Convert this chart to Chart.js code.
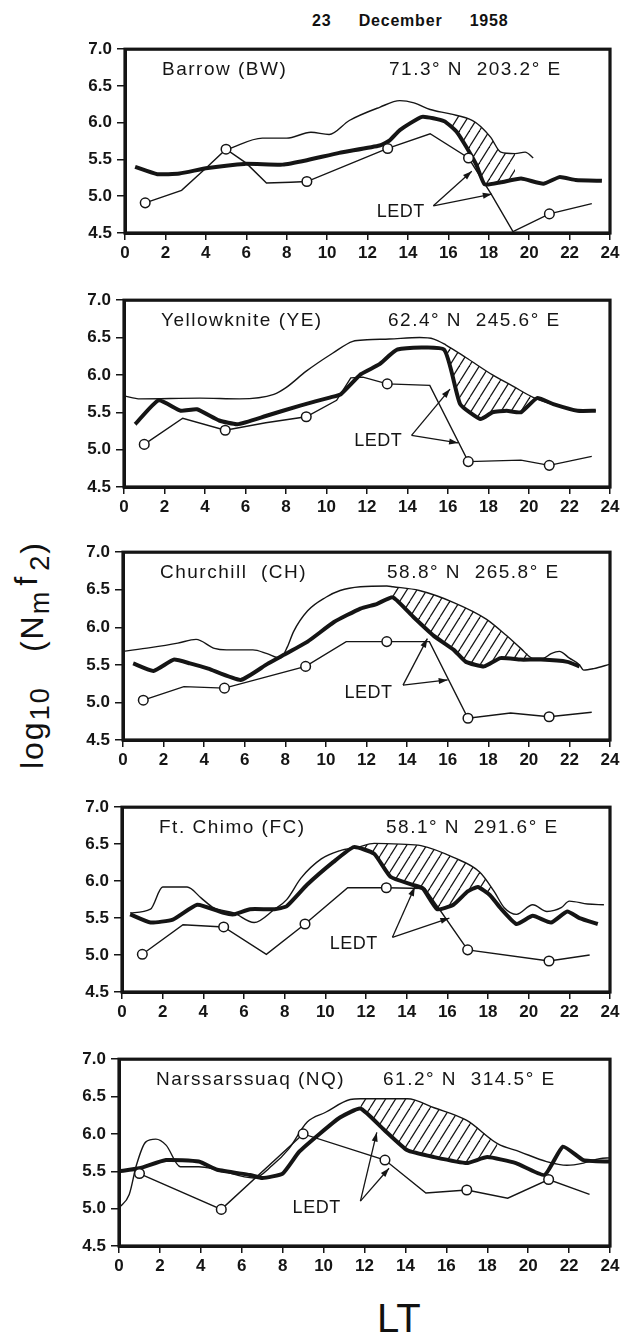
<!DOCTYPE html>
<html>
<head>
<meta charset="utf-8">
<script src="https://cdn.jsdelivr.net/npm/chart.js@4.4.0/dist/chart.umd.min.js"></script>
<style>
  body { margin: 0; background: #fff; width: 642px; height: 1336px; position: relative; overflow: hidden;
         font-family: 'Liberation Sans', Arial, sans-serif; color: #111; }
  canvas { position: absolute; left: 0; }
  #date { position: absolute; left: 312px; top: 12px; font-size: 16px; font-weight: bold; letter-spacing: 0.8px; word-spacing: 22px; white-space: nowrap; }
  #ylab { position: absolute; left: -118px; top: 635px; width: 300px; height: 40px; line-height: 40px;
          text-align: center; font-size: 32px; letter-spacing: 2px; transform: rotate(-90deg); white-space: nowrap; }
  #ylab .lo { font-size: 0.85em; position: relative; top: 0.22em; }
  #ylab .hi { position: relative; top: -0.2em; margin: 0 4px; }
  #ylab .gap { display: inline-block; width: 34px; }
  #lt { position: absolute; left: 377px; top: 1296px; font-size: 40px; }
</style>
</head>
<body>
<div id="date">23 December 1958</div>
<div id="ylab">log<span class="lo">10</span><span class="gap"></span>(N<span class="lo">m</span><span class="hi">f</span><span class="lo">2</span>)</div>
<div id="lt">LT</div>
<script>
// ---- data (hour LT, log10 NmF2) ----
const xTicks = [0, 2, 4, 6, 8, 10, 12, 14, 16, 18, 20, 22, 24];
const yTicks = [4.5, 5.0, 5.5, 6.0, 6.5, 7.0];
const circleHours = [1, 5, 9, 13, 17, 21];

const stations = ['Barrow (BW)', 'Yellowknite (YE)', 'Churchill  (CH)', 'Ft. Chimo (FC)', 'Narssarssuaq (NQ)'];
const coords = ['71.3° N  203.2° E', '62.4° N  245.6° E', '58.8° N  265.8° E', '58.1° N  291.6° E', '61.2° N  314.5° E'];

// Barrow
const bwUpper = [[5.1,5.64],[6.8,5.79],[8.0,5.79],[9.2,5.87],[10.1,5.84],[11.1,6.03],[12.6,6.21],[13.6,6.30],[14.3,6.27],[15.1,6.18],[16.1,6.12],[17.2,6.03],[17.6,5.95],[18.1,5.80],[18.6,5.60],[19.3,5.58],[19.8,5.60],[20.2,5.52]];
const bwThick = [[0.5,5.40],[1.6,5.30],[2.7,5.31],[4.0,5.38],[5.9,5.44],[7.8,5.43],[9.0,5.49],[10.6,5.59],[12.6,5.69],[13.1,5.76],[13.6,5.90],[14.7,6.08],[15.8,6.02],[16.4,5.88],[17.0,5.62],[17.4,5.42],[17.8,5.16],[18.6,5.19],[19.6,5.24],[20.7,5.17],[21.5,5.26],[22.3,5.22],[23.6,5.21]];
const bwCircle = [[1,4.91],[2.8,5.08],[4.0,5.38],[5,5.64],[6.0,5.45],[7.0,5.18],[8.2,5.19],[9,5.20],[13,5.65],[15.1,5.85],[17,5.52],[18.1,5.04],[19.2,4.52],[21,4.76],[23.1,4.90]];
const bwHatch = [16.1, 19.3];

// Yellowknife
const yeUpper = [[0,5.72],[0.8,5.68],[3.75,5.69],[5.7,5.68],[7.4,5.74],[8.0,5.83],[9.0,6.05],[10.3,6.29],[11.3,6.45],[12.0,6.47],[13.1,6.48],[14.6,6.50],[15.3,6.48],[15.9,6.40],[16.9,6.23],[18.2,6.00],[19.2,5.85],[20.2,5.70],[21.0,5.62],[22.4,5.53],[23.3,5.52]];
const yeThick = [[0.55,5.34],[1.7,5.66],[2.8,5.52],[3.6,5.54],[4.7,5.39],[5.6,5.34],[7.0,5.45],[8.7,5.59],[10.2,5.70],[10.7,5.74],[11.7,6.01],[12.6,6.14],[13.5,6.34],[15.8,6.34],[16.6,5.61],[17.6,5.41],[18.2,5.50],[18.9,5.52],[19.6,5.50],[20.4,5.69],[21.2,5.61],[22.4,5.52],[23.3,5.52]];
const yeCircle = [[1,5.07],[2.9,5.42],[5,5.26],[7,5.36],[9,5.44],[10.5,5.66],[11.2,5.96],[11.8,5.97],[13,5.88],[15.1,5.86],[17,4.84],[19.6,4.86],[21,4.79],[23.1,4.91]];
const yeHatch = [15.9, 20.2];

// Churchill
const chUpper = [[0,5.68],[1.35,5.73],[2.7,5.79],[3.6,5.84],[4.5,5.72],[5.1,5.70],[6.4,5.70],[7.1,5.65],[7.75,5.59],[8.1,5.74],[8.4,5.94],[9.1,6.22],[10.0,6.40],[10.7,6.49],[11.7,6.54],[13.0,6.55],[13.3,6.54],[14.6,6.49],[16.3,6.33],[17.9,6.11],[18.9,5.89],[19.6,5.72],[20.2,5.59],[20.7,5.59],[21.1,5.65],[21.5,5.68],[22.0,5.59],[22.5,5.50],[22.7,5.43],[23.2,5.45],[24,5.51]];
const chThick = [[0.5,5.52],[1.5,5.42],[2.5,5.57],[3.3,5.52],[4.2,5.45],[5.8,5.30],[7.1,5.51],[7.9,5.63],[9.1,5.81],[10.4,6.07],[11.7,6.25],[12.5,6.31],[13.3,6.40],[14.3,6.14],[15.3,5.89],[16.3,5.70],[16.9,5.54],[17.8,5.48],[18.6,5.59],[19.6,5.57],[20.6,5.57],[21.9,5.54],[22.5,5.48]];
const chCircle = [[1,5.03],[3.0,5.21],[5,5.19],[9,5.48],[11.0,5.81],[13,5.81],[15.1,5.81],[17,4.79],[19.1,4.86],[21,4.81],[23.1,4.87]];
const chHatch = [13.3, 20.2];

// Ft. Chimo
const fcUpper = [[0.4,5.57],[1.4,5.62],[2.0,5.92],[3.2,5.92],[3.9,5.77],[4.5,5.64],[5.5,5.57],[6.5,5.44],[7.5,5.62],[8.1,5.75],[8.8,6.04],[9.8,6.30],[10.7,6.41],[11.6,6.46],[12.4,6.51],[13.7,6.50],[14.7,6.48],[16.3,6.32],[17.6,6.12],[18.3,5.86],[18.8,5.64],[19.4,5.55],[20.2,5.68],[20.9,5.59],[21.6,5.64],[22.0,5.73],[22.9,5.69],[23.7,5.68]];
const fcThick = [[0.4,5.55],[1.4,5.44],[2.5,5.48],[3.7,5.68],[5.0,5.57],[5.5,5.55],[6.3,5.62],[7.5,5.62],[8.1,5.66],[9.1,5.95],[10.4,6.26],[11.4,6.46],[12.4,6.37],[13.2,6.06],[14.3,5.95],[14.8,5.90],[15.5,5.62],[16.3,5.68],[17.0,5.86],[17.5,5.92],[18.1,5.81],[18.6,5.64],[19.4,5.42],[20.2,5.53],[21.1,5.44],[21.9,5.59],[22.5,5.50],[23.4,5.42]];
const fcCircle = [[1,5.01],[3.0,5.41],[5,5.38],[7.1,5.01],[9,5.42],[11.1,5.91],[13,5.91],[14.9,5.90],[17,5.07],[21,4.92],[23.0,5.00]];
const fcHatch = [11.6, 18.3];

// Narssarssuaq
const nqUpper = [[0,5.01],[0.5,5.19],[0.85,5.58],[1.3,5.89],[1.8,5.93],[2.3,5.85],[3.0,5.56],[3.9,5.56],[4.8,5.52],[6.6,5.41],[7.5,5.58],[8.3,5.80],[9.2,6.16],[10.1,6.29],[11.3,6.46],[11.8,6.47],[14.1,6.47],[15.4,6.35],[17.0,6.18],[18.5,5.87],[19.6,5.76],[20.9,5.63],[21.9,5.58],[22.7,5.61],[23.5,5.67],[24,5.68]];
const nqThick = [[0,5.50],[1.0,5.54],[2.3,5.65],[3.9,5.63],[4.8,5.52],[6.4,5.45],[7.0,5.41],[8.0,5.47],[8.8,5.76],[9.8,6.00],[10.8,6.22],[11.8,6.34],[12.9,6.07],[14.1,5.78],[15.4,5.69],[17.0,5.61],[18.0,5.69],[19.4,5.61],[20.8,5.45],[21.7,5.83],[22.7,5.65],[24,5.63]];
const nqCircle = [[1,5.47],[5,4.99],[9,6.00],[13,5.65],[15.0,5.21],[17,5.25],[19.0,5.14],[21,5.39],[23.0,5.19]];
const nqHatch = [11.8, 18.5];

// LEDT labels and arrows (hour, value)
const ledtText = [[13.65,4.78],[12.56,5.12],[12.1,5.13],[11.4,5.15],[9.66,5.01]];
const ledtArrows = [
  [[15.26,4.87,17.16,5.34],[15.26,4.87,18.15,5.03]],
  [[14.2,5.19,16.1,5.81],[14.2,5.19,16.5,5.09]],
  [[13.8,5.23,15.0,5.85],[13.8,5.23,16.0,5.30]],
  [[13.3,5.24,14.4,5.92],[13.3,5.24,16.1,5.50]],
  [[11.8,5.10,12.6,6.02],[11.8,5.10,13.2,5.54]]
];

const uppers = [bwUpper, yeUpper, chUpper, fcUpper, nqUpper];
const thicks = [bwThick, yeThick, chThick, fcThick, nqThick];
const circles = [bwCircle, yeCircle, chCircle, fcCircle, nqCircle];
const hatches = [bwHatch, yeHatch, chHatch, fcHatch, nqHatch];

// ---- layout of the five boxes on the page ----
const boxTop = [46, 297, 549, 804, 1056];
const boxBottom = [233, 487, 740, 992, 1246];
const boxLeft = [125, 124, 123, 122, 119];
const boxRight = 610;
const padTop = 12, axisH = 42;

const ink = '#151515';
const font = "'Liberation Sans', Arial, sans-serif";

function makeHatch() {
  const w = 10, h = 16;
  const c = document.createElement('canvas');
  c.width = w; c.height = h;
  const g = c.getContext('2d');
  g.strokeStyle = ink;
  g.lineWidth = 1.2;
  for (const dx of [-w, 0, w]) {
    g.beginPath();
    g.moveTo(dx, h);
    g.lineTo(dx + w, 0);
    g.stroke();
  }
  return g.createPattern(c, 'repeat');
}
const hatch = makeHatch();

function toPts(arr) {
  return arr.map(p => ({ x: p[0], y: p[1] }));
}

function arrow(ctx, x0, y0, x1, y1) {
  ctx.beginPath();
  ctx.moveTo(x0, y0);
  ctx.lineTo(x1, y1);
  ctx.stroke();
  const a = Math.atan2(y1 - y0, x1 - x0);
  const L = 9, W = 3;
  ctx.beginPath();
  ctx.moveTo(x1, y1);
  ctx.lineTo(x1 - L * Math.cos(a) + W * Math.sin(a), y1 - L * Math.sin(a) - W * Math.cos(a));
  ctx.lineTo(x1 - L * Math.cos(a) - W * Math.sin(a), y1 - L * Math.sin(a) + W * Math.cos(a));
  ctx.closePath();
  ctx.fill();
}

function addPanel(i) {
  const cv = document.createElement('canvas');
  const h = padTop + (boxBottom[i] - boxTop[i]) + axisH;
  cv.width = 642;
  cv.height = h;
  cv.style.top = (boxTop[i] - padTop) + 'px';
  document.body.appendChild(cv);

  const up = uppers[i], hr = hatches[i];
  const hatchPts = up.filter(p => p[0] >= hr[0] && p[0] <= hr[1]);

  const decor = {
    id: 'decor' + i,
    afterDatasetsDraw(chart) {
      const ctx = chart.ctx, a = chart.chartArea;
      const xs = chart.scales.x, ys = chart.scales.y;
      ctx.save();
      ctx.strokeStyle = ink;
      ctx.lineWidth = 3.2;
      ctx.strokeRect(a.left, a.top, a.right - a.left, a.bottom - a.top);

      ctx.fillStyle = ink;
      ctx.textBaseline = 'middle';
      ctx.textAlign = 'left';
      ctx.font = '19px ' + font;
      ctx.letterSpacing = '1.5px';
      ctx.fillText(stations[i], a.left + 37, a.top + 21);
      ctx.fillText(coords[i], a.left + 264, a.top + 21);

      ctx.textAlign = 'center';
      ctx.font = '18px ' + font;
      ctx.letterSpacing = '0.5px';
      ctx.fillText('LEDT', xs.getPixelForValue(ledtText[i][0]), ys.getPixelForValue(ledtText[i][1]));

      ctx.lineWidth = 1.3;
      for (const ar of ledtArrows[i]) {
        arrow(ctx, xs.getPixelForValue(ar[0]), ys.getPixelForValue(ar[1]),
                   xs.getPixelForValue(ar[2]), ys.getPixelForValue(ar[3]));
      }
      ctx.restore();
    }
  };

  const tickFont = { family: font, size: 17, weight: 'bold' };

  new Chart(cv, {
    type: 'line',
    data: {
      datasets: [
        {
          data: toPts(circles[i]),
          borderColor: ink,
          borderWidth: 1.4,
          tension: 0,
          pointRadius: circles[i].map(p => circleHours.includes(p[0]) ? 4.8 : 0),
          pointBackgroundColor: '#fff',
          pointBorderColor: ink,
          pointBorderWidth: 1.5,
          fill: false
        },
        {
          data: toPts(thicks[i]),
          borderColor: ink,
          borderWidth: 4,
          tension: 0.15,
          pointRadius: 0,
          fill: false
        },
        {
          data: toPts(up),
          borderColor: ink,
          borderWidth: 1.4,
          cubicInterpolationMode: 'monotone',
          pointRadius: 0,
          fill: false
        },
        {
          data: toPts(hatchPts),
          borderWidth: 0,
          borderColor: 'rgba(0,0,0,0)',
          cubicInterpolationMode: 'monotone',
          pointRadius: 0,
          fill: { target: 1, above: hatch, below: 'rgba(0,0,0,0)' }
        }
      ]
    },
    options: {
      responsive: false,
      animation: false,
      devicePixelRatio: 1,
      layout: { padding: { left: 0, right: 642 - boxRight, top: padTop, bottom: 0 } },
      plugins: { legend: { display: false }, tooltip: { enabled: false } },
      scales: {
        x: {
          type: 'linear', min: 0, max: 24,
          afterBuildTicks: s => { s.ticks = xTicks.map(v => ({ value: v })); },
          afterFit: s => { s.height = axisH; },
          ticks: { color: ink, font: tickFont, padding: 3, maxRotation: 0, autoSkip: false },
          grid: { drawOnChartArea: false, drawTicks: true, tickLength: 7, color: ink, lineWidth: 1.5 },
          border: { display: true, color: ink, width: 3 }
        },
        y: {
          type: 'linear', min: 4.5, max: 7.0,
          afterBuildTicks: s => { s.ticks = yTicks.map(v => ({ value: v })); },
          afterFit: s => { s.width = boxLeft[i]; },
          ticks: { color: ink, font: tickFont, padding: 5, callback: v => v.toFixed(1) },
          grid: { drawOnChartArea: false, drawTicks: true, tickLength: 8, color: ink, lineWidth: 1.5 },
          border: { display: true, color: ink, width: 3 }
        }
      }
    },
    plugins: [decor]
  });
}

for (let i = 0; i < 5; i++) addPanel(i);
</script>
</body>
</html>
